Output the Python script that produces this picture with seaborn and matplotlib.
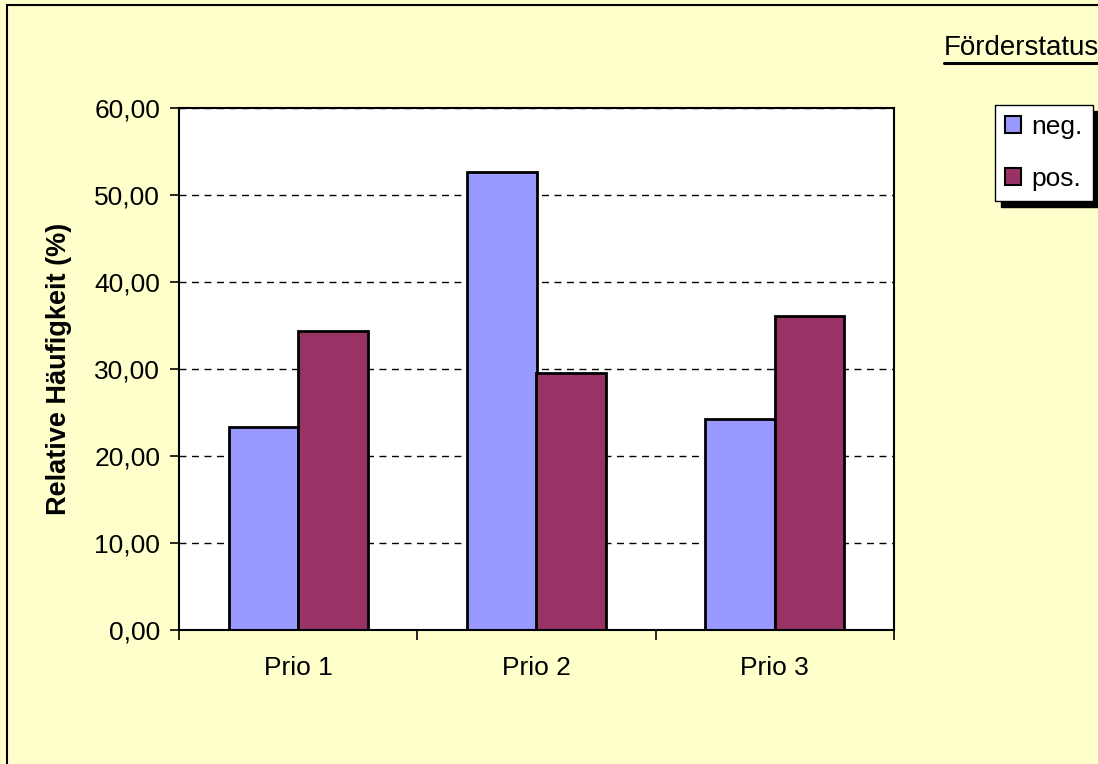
import pandas as pd
import numpy as np
import matplotlib.pyplot as plt
import matplotlib.patches as mpatches
from matplotlib.lines import Line2D
from matplotlib.ticker import FuncFormatter, FixedLocator
import seaborn as sns

# Daten
kategorien = ["Prio 1", "Prio 2", "Prio 3"]
status = ["neg.", "pos."]
neg_werte = [23.3, 52.6, 24.3]
pos_werte = [34.4, 29.5, 36.1]
farben = ["#9999FF", "#993366"]

df = pd.DataFrame({
    "Prio": kategorien * 2,
    "Status": [status[0]] * 3 + [status[1]] * 3,
    "Wert": neg_werte + pos_werte,
})

sns.set_style("white")
plt.rcParams["font.family"] = ["Liberation Sans", "DejaVu Sans"]
plt.rcParams.update({"text.color": "black", "axes.labelcolor": "black",
                     "xtick.color": "black", "ytick.color": "black"})
fs = 19

fig = plt.figure(figsize=(10.98, 7.64), dpi=100)
fig.patch.set_facecolor("#FFFFCC")
ax = fig.add_axes([179 / 1098, 134 / 764, 715 / 1098, 522 / 764])
ax.set_facecolor("white")

sns.barplot(data=df, x="Prio", y="Wert", hue="Status", palette=farben,
            width=0.584, edgecolor="black", linewidth=2, saturation=1,
            ax=ax, legend=False)

ax.set_ylim(0, 60)
ax.set_xlim(-0.5, 2.5)
ax.set_yticks(np.arange(0, 61, 10))
ax.yaxis.set_major_formatter(FuncFormatter(lambda v, p: f"{v:.2f}".replace(".", ",")))
ax.yaxis.grid(True, color="black", linestyle=(0, (5, 4)), linewidth=1)
ax.set_axisbelow(True)

ax.xaxis.set_minor_locator(FixedLocator([-0.5, 0.5, 1.5, 2.5]))
ax.tick_params(axis="x", which="major", length=0, pad=19, labelsize=fs)
ax.tick_params(axis="x", which="minor", length=7, width=1.2, direction="out", color="black", bottom=True)
ax.tick_params(axis="y", which="major", length=6.5, width=1.2, direction="out", color="black", left=True, pad=7, labelsize=fs)

for sp in ax.spines.values():
    sp.set_visible(True)
    sp.set_color("black")
    sp.set_linewidth(1.5)

ax.set_xlabel("")
ax.set_ylabel("Relative Häufigkeit (%)", fontsize=fs + 0.5, fontweight="bold")
ax.yaxis.set_label_coords(-0.150, 0.5)

# Legende mit Schatten
handles = [mpatches.Patch(facecolor=c, edgecolor="black", linewidth=1.5) for c in farben]
fig.legend(handles, status, loc="upper left", bbox_to_anchor=(995 / 1098, 1 - 105 / 764),
           bbox_transform=fig.transFigure, fontsize=fs, frameon=True, fancybox=False,
           edgecolor="black", facecolor="white", framealpha=1, borderaxespad=0,
           borderpad=0.38, handlelength=0.6, handleheight=0.6, handletextpad=0.4,
           labelspacing=1.05,
           shadow={"ox": 4.5, "oy": -4.5, "color": "black", "alpha": 1})

# Feldschaltfläche "Förderstatus"
fig.text(944 / 1098, 1 - 55 / 764, "Förderstatus", fontsize=fs + 1, ha="left", va="baseline")
fig.add_artist(Line2D([944 / 1098, 1.0], [1 - 63 / 764] * 2, color="black", linewidth=2.2,
                      transform=fig.transFigure))

# Rahmen des Diagrammbereichs (nur oben und links sichtbar)
fig.add_artist(Line2D([7 / 1098, 7 / 1098], [0, 1 - 5 / 764], color="black", linewidth=1.5,
                      transform=fig.transFigure))
fig.add_artist(Line2D([7 / 1098, 1.0], [1 - 5 / 764] * 2, color="black", linewidth=1.5,
                      transform=fig.transFigure))

fig.savefig("out.png", dpi=100, facecolor=fig.get_facecolor())
